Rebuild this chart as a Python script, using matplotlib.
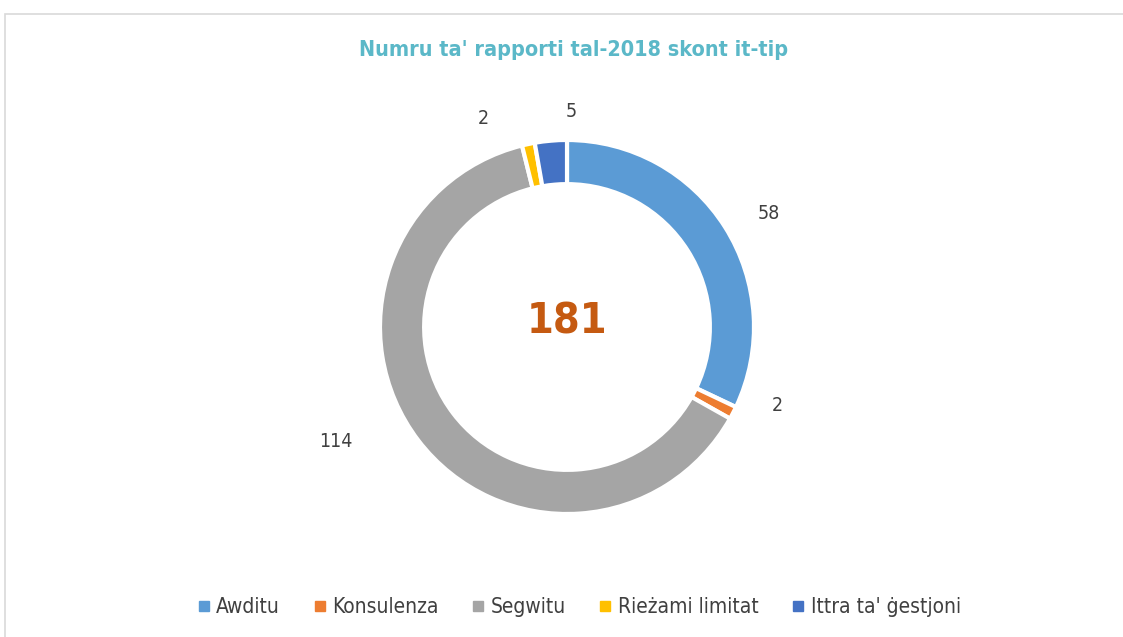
import matplotlib.pyplot as plt
from matplotlib.patches import Rectangle
import numpy as np

categories = ["Awditu", "Konsulenza", "Segwitu", "Rieżami limitat", "Ittra ta' ġestjoni"]
values = [58, 2, 114, 2, 5]
colors = ["#5B9BD5", "#ED7D31", "#A5A5A5", "#FFC000", "#4472C4"]
title = "Numru ta' rapporti tal-2018 skont it-tip"

plt.rcParams['font.family'] = ["DejaVu Sans"]
plt.rcParams['font.stretch'] = "condensed"

fig = plt.figure(figsize=(11.23, 6.37), dpi=100)
W, H = 1123, 637

# chart area border
fig.patches.append(Rectangle((5 / W, -0.01), 1.1, 1 - 14 / H + 0.01, transform=fig.transFigure,
                             fill=False, edgecolor="#D9D9D9", linewidth=1.2))

# donut axes: centre (567, 327) px, radius 187 px
R = 187
cx, cy = 567, H - 327
half = 1.5 * R
ax = fig.add_axes([(cx - half) / W, (cy - half) / H, 2 * half / W, 2 * half / H])

wedges, _ = ax.pie(values, colors=colors, startangle=90, counterclock=False, radius=1,
                   wedgeprops=dict(width=0.236, edgecolor="white", linewidth=3))
ax.set_xlim(-1.5, 1.5)
ax.set_ylim(-1.5, 1.5)
ax.axis("off")

# data labels
dist = [1.24, 1.2, 1.38, 1.2, 1.15]
shift = [-3, 7, -11, 10, -6]
for w, v, d, s in zip(wedges, values, dist, shift):
    ang = np.deg2rad((w.theta1 + w.theta2) / 2 + s)
    ax.text(d * np.cos(ang), d * np.sin(ang), str(v), ha="center", va="center",
            fontsize=14, color="#404040", clip_on=False)

ax.text(0, 0.03, str(sum(values)), ha="center", va="center", fontsize=31,
        fontweight="bold", color="#C55A11")

fig.text(574 / W, 1 - 50 / H, title, ha="center", va="center", fontsize=15.5,
         fontweight="bold", color="#5BB8C8")

handles = [plt.Line2D([], [], marker="s", linestyle="", markersize=7, color=c) for c in colors]
fig.legend(handles, categories, loc="center", bbox_to_anchor=(577 / W, 1 - 607 / H), ncol=5,
           frameon=False, fontsize=15, labelcolor="#404040", handletextpad=0.1,
           columnspacing=1.4, handlelength=1.0)

fig.savefig("out.png", dpi=100)
